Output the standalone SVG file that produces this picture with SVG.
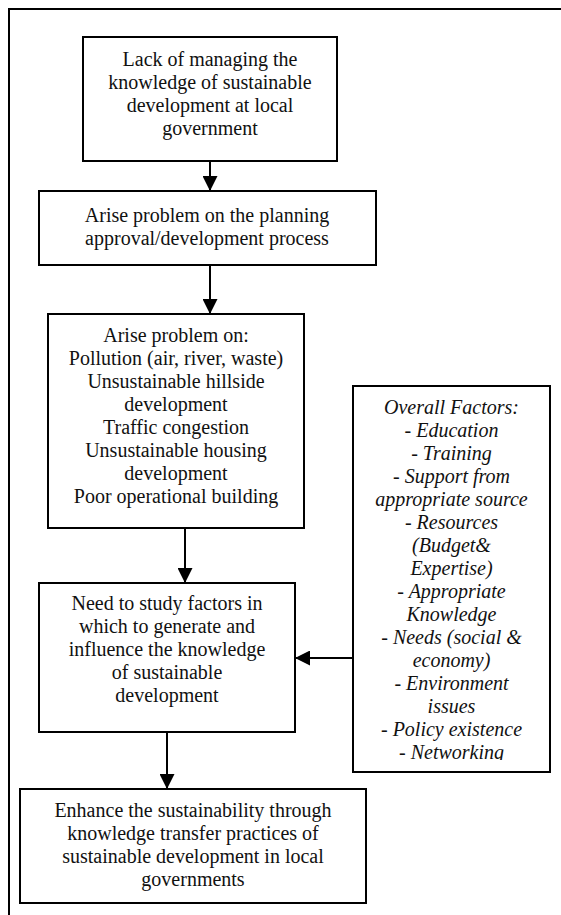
<svg xmlns="http://www.w3.org/2000/svg" width="561" height="915" viewBox="0 0 561 915">
<style>
.box{fill:#fff;stroke:#000;stroke-width:2}
.t{font-family:"Liberation Serif","Times New Roman",serif;font-size:20px;fill:#111;text-anchor:middle}
.i{font-style:italic}
.c{stroke:#000;stroke-width:2;fill:none;marker-end:url(#ah)}
.frame{stroke:#000;stroke-width:2;fill:none}
</style>
<defs>
<marker id="ah" markerUnits="userSpaceOnUse" markerWidth="15" markerHeight="15" refX="15" refY="7.5" orient="auto" viewBox="0 0 15 15">
<path d="M0,0 L15,7.5 L0,15 Z" fill="#000"/>
</marker>
<clipPath id="fclip"><rect x="353" y="386" width="197" height="374"/></clipPath>
</defs>
<g id="frame">
<path class="frame" d="M9,915 L9,9 L561,9"/>
</g>
<g id="connectors">
<line class="c" x1="210" y1="161" x2="210" y2="191"/>
<line class="c" x1="210" y1="265" x2="210" y2="314"/>
<line class="c" x1="185" y1="528" x2="185" y2="583"/>
<line class="c" x1="167" y1="732" x2="167" y2="789"/>
<line class="c" x1="353" y1="658" x2="295" y2="658"/>
</g>
<g id="n1">
<rect class="box" x="83" y="37" width="254" height="124"/>
<text class="t" x="210" y="66">Lack of managing the</text>
<text class="t" x="210" y="89">knowledge of sustainable</text>
<text class="t" x="210" y="112">development at local</text>
<text class="t" x="210" y="135">government</text>
</g>
<g id="n2">
<rect class="box" x="39" y="191" width="337" height="74"/>
<text class="t" x="207" y="222">Arise problem on the planning</text>
<text class="t" x="207" y="245">approval/development process</text>
</g>
<g id="n3">
<rect class="box" x="48" y="314" width="256" height="214"/>
<text class="t" x="176" y="342">Arise problem on:</text>
<text class="t" x="176" y="365">Pollution (air, river, waste)</text>
<text class="t" x="176" y="388">Unsustainable hillside</text>
<text class="t" x="176" y="411">development</text>
<text class="t" x="176" y="434">Traffic congestion</text>
<text class="t" x="176" y="457">Unsustainable housing</text>
<text class="t" x="176" y="480">development</text>
<text class="t" x="176" y="503">Poor operational building</text>
</g>
<g id="n4">
<rect class="box" x="39" y="583" width="256" height="149"/>
<text class="t" x="167" y="610">Need to study factors in</text>
<text class="t" x="167" y="633">which to generate and</text>
<text class="t" x="167" y="656">influence the knowledge</text>
<text class="t" x="167" y="679">of sustainable</text>
<text class="t" x="167" y="702">development</text>
</g>
<g id="n5">
<rect class="box" x="20" y="789" width="346" height="114"/>
<text class="t" x="193" y="817">Enhance the sustainability through</text>
<text class="t" x="193" y="840">knowledge transfer practices of</text>
<text class="t" x="193" y="863">sustainable development in local</text>
<text class="t" x="193" y="886">governments</text>
</g>
<g id="factors">
<rect class="box" x="353" y="386" width="197" height="386"/>
<g clip-path="url(#fclip)">
<text class="t i" x="451.5" y="414">Overall Factors:</text>
<text class="t i" x="451.5" y="437">- Education</text>
<text class="t i" x="451.5" y="460">- Training</text>
<text class="t i" x="451.5" y="483">- Support from</text>
<text class="t i" x="451.5" y="506">appropriate source</text>
<text class="t i" x="451.5" y="529">- Resources</text>
<text class="t i" x="451.5" y="552">(Budget&amp;</text>
<text class="t i" x="451.5" y="575">Expertise)</text>
<text class="t i" x="451.5" y="598">- Appropriate</text>
<text class="t i" x="451.5" y="621">Knowledge</text>
<text class="t i" x="451.5" y="644">- Needs (social &amp;</text>
<text class="t i" x="451.5" y="667">economy)</text>
<text class="t i" x="451.5" y="690">- Environment</text>
<text class="t i" x="451.5" y="713">issues</text>
<text class="t i" x="451.5" y="736">- Policy existence</text>
<text class="t i" x="451.5" y="759">- Networking</text>
</g>
</g>
</svg>
